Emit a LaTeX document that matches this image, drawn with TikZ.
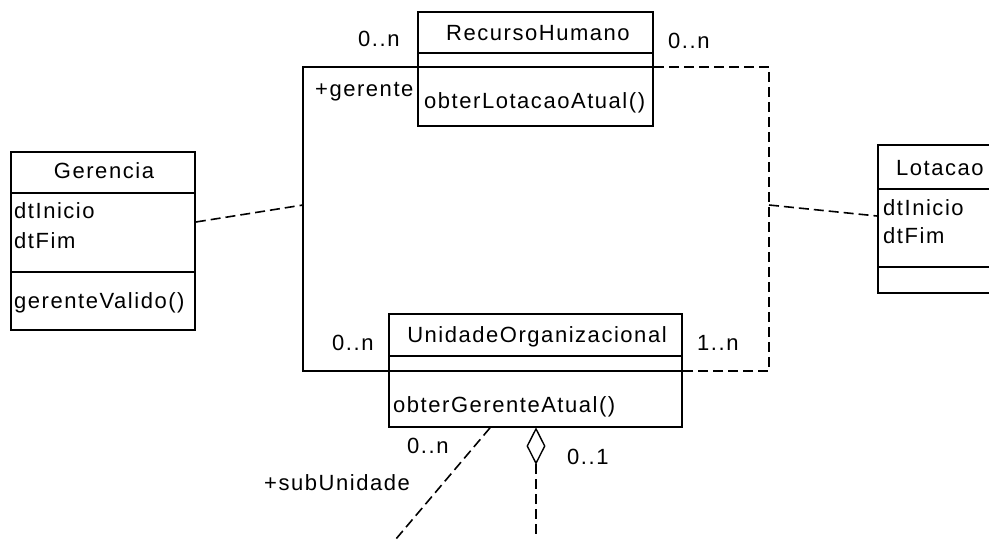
\documentclass[tikz,border=0pt]{standalone}
\usepackage{fontspec}
\setmainfont{Liberation Sans}[LetterSpace=7]
\usetikzlibrary{shapes.geometric}
\begin{document}
\begin{tikzpicture}[x=1pt,y=-1pt,
  classbox/.style={draw, line width=1.7pt, inner sep=0pt, rectangle},
  divider/.style={line width=1.6pt},
  txt/.style={font=\fontsize{22}{26}\selectfont, inner sep=0pt},
  assoc/.style={line width=1.5pt},
  dashln/.style={line width=1.6pt, dash pattern=on 10pt off 5pt}]
\clip (0,0) rectangle (989,539);

% class boxes
\node[classbox, minimum width=235pt, minimum height=114pt] (rh) at (535.5,69) {};
\node[classbox, minimum width=184pt, minimum height=178pt] (ger) at (103,241) {};
\node[classbox, minimum width=124pt, minimum height=148pt] (lot) at (940,219) {};
\node[classbox, minimum width=293pt, minimum height=113pt] (uo) at (535.5,370.5) {};

% compartment dividers
\draw[divider] (rh.west |- 0,53) -- (rh.east |- 0,53);
\draw[divider] (rh.west |- 0,67) -- (rh.east |- 0,67);
\draw[divider] (ger.west |- 0,193) -- (ger.east |- 0,193);
\draw[divider] (ger.west |- 0,272) -- (ger.east |- 0,272);
\draw[divider] (lot.west |- 0,189) -- (lot.east |- 0,189);
\draw[divider] (lot.west |- 0,267) -- (lot.east |- 0,267);
\draw[divider] (uo.west |- 0,356) -- (uo.east |- 0,356);
\draw[divider] (uo.west |- 0,371) -- (uo.east |- 0,371);

% class texts
\node[txt, anchor=base] (rhname) at (538,40) {RecursoHumano};
\node[txt, anchor=base west] (rhop) at (424,108) {obterLotacaoAtual()};
\node[txt, anchor=base] (gername) at (104,178) {Gerencia};
\node[txt, anchor=base west] (gera1) at (14,218) {dtInicio};
\node[txt, anchor=base west] (gera2) at (14,248) {dtFim};
\node[txt, anchor=base west] (gerop) at (14,308) {gerenteValido()};
\node[txt, anchor=base west] (lotname) at (896,175) {Lotacao};
\node[txt, anchor=base west] (lota1) at (883,215) {dtInicio};
\node[txt, anchor=base west] (lota2) at (883,243) {dtFim};
\node[txt, anchor=base] (uoname) at (537,342) {UnidadeOrganizacional};
\node[txt, anchor=base west] (uoop) at (393,412) {obterGerenteAtual()};

% association RecursoHumano -- UnidadeOrganizacional
\coordinate (gtop) at (303,67);
\coordinate (gbot) at (303,371);
\coordinate (gmid) at (303,205);
\draw[assoc] (rh.west |- gtop) -- (gtop) -- (gbot) -- (uo.west |- gbot);

% association class links
\coordinate (ltop) at (769,67);
\coordinate (lbot) at (769,371);
\coordinate (lmid) at (769,205);
\draw[dashln] (rh.east |- ltop) -- (ltop) -- (lbot) -- (uo.east |- lbot);
\draw[dashln] (ger.east |- 0,222) -- (gmid);
\draw[dashln] (lmid) -- (lot.west |- 0,216);

% sub-unit links
\coordinate (subend) at (396,539);
\draw[dashln] (uo.south -| 490,0) -- (subend);
\coordinate (aggend) at (536,539);
\node[draw, line width=1.4pt, diamond, minimum width=18pt, minimum height=35pt, inner sep=0pt, anchor=north] (agg) at (uo.south -| 536,0) {};
\draw[dashln] (agg.south) -- (aggend);

% multiplicities and roles
\node[txt, anchor=base west] (m1) at (358,46) {0..n};
\node[txt, anchor=base west] (m2) at (668,48) {0..n};
\node[txt, anchor=base west] (rg) at (315,96) {+gerente};
\node[txt, anchor=base west] (m3) at (332,350) {0..n};
\node[txt, anchor=base west] (m4) at (697,350) {1..n};
\node[txt, anchor=base west] (m5) at (407,453) {0..n};
\node[txt, anchor=base west] (m6) at (567,464) {0..1};
\node[txt, anchor=base west] (rs) at (264,490) {+subUnidade};
\end{tikzpicture}
\end{document}
